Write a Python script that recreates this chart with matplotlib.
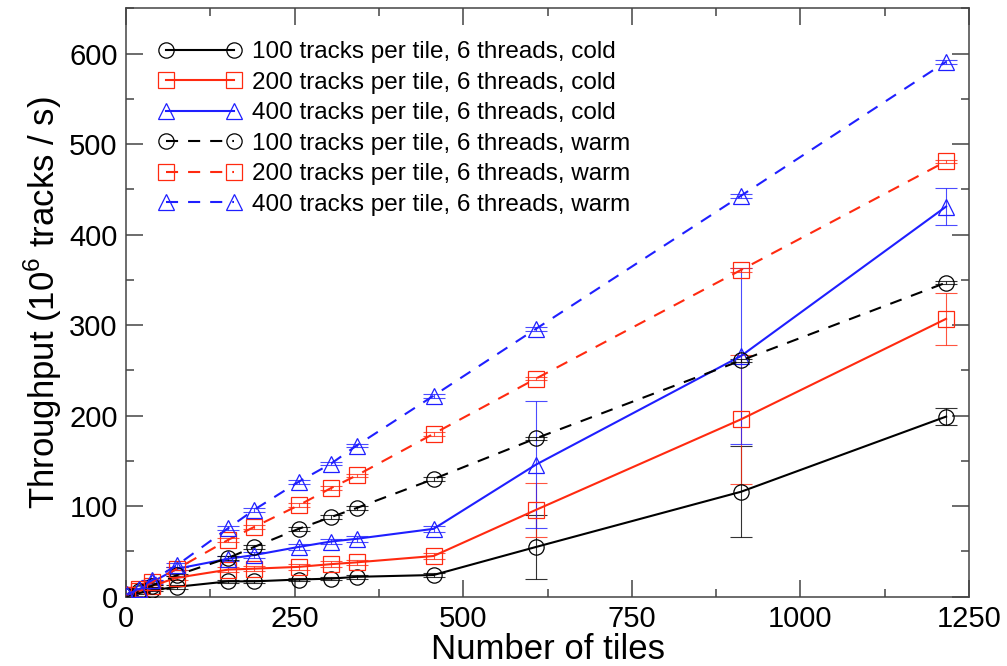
import matplotlib
matplotlib.use("Agg")
import matplotlib.pyplot as plt
from matplotlib.ticker import MultipleLocator

plt.rcParams['font.family'] = ['Liberation Sans', 'DejaVu Sans']
plt.rcParams['mathtext.fontset'] = 'custom'
plt.rcParams['mathtext.rm'] = 'Liberation Sans'

# ---- data ----
tiles = [2, 19, 38, 76, 152, 190, 256, 304, 342, 456, 608, 912, 1216]

cold_100 = [1, 4, 7, 11, 17, 17, 19, 20, 22, 24, 55, 116, 199]
cold_100_err = [1, 1, 1, 2, 2, 2, 2, 2, 2, 2, 35, 50, 9]
cold_200 = [2, 6, 12, 21, 30, 31, 33, 36, 38, 45, 96, 196, 307]
cold_200_err = [1, 1, 1, 2, 3, 3, 3, 3, 3, 3, 30, 71, 29]
cold_400 = [3, 8, 16, 31, 42, 46, 55, 61, 64, 75, 146, 266, 431]
cold_400_err = [1, 1, 2, 2, 3, 3, 3, 3, 3, 3, 70, 97, 20]

warm_100 = [1, 6, 12, 24, 43, 55, 75, 88, 98, 130, 175, 261, 347]
warm_100_err = [1, 1, 1, 1, 2, 2, 2, 2, 2, 2, 2, 2, 2]
warm_200 = [2, 8, 16, 31, 63, 77, 101, 120, 134, 180, 241, 361, 481]
warm_200_err = [1, 1, 1, 2, 2, 2, 2, 2, 2, 2, 2, 2, 2]
warm_400 = [2, 9, 18, 35, 76, 96, 127, 147, 167, 222, 296, 443, 591]
warm_400_err = [1, 1, 1, 2, 2, 2, 2, 2, 2, 2, 2, 2, 2]

labels = [
    "100 tracks per tile, 6 threads, cold",
    "200 tracks per tile, 6 threads, cold",
    "400 tracks per tile, 6 threads, cold",
    "100 tracks per tile, 6 threads, warm",
    "200 tracks per tile, 6 threads, warm",
    "400 tracks per tile, 6 threads, warm",
]

BLACK = '#000000'
RED = '#ff2a10'
BLUE = '#1f1fff'

series = [
    (cold_100, cold_100_err, BLACK, 'o', 'solid'),
    (cold_200, cold_200_err, RED, 's', 'solid'),
    (cold_400, cold_400_err, BLUE, '^', 'solid'),
    (warm_100, warm_100_err, BLACK, 'o', 'dashed'),
    (warm_200, warm_200_err, RED, 's', 'dashed'),
    (warm_400, warm_400_err, BLUE, '^', 'dashed'),
]

fig = plt.figure(figsize=(10.07, 6.66), dpi=100)
ax = fig.add_axes([0.1251, 0.104, 0.8372, 0.8835])

handles = []
for (vals, err, col, mk, ls), lab in zip(series, labels):
    ax.errorbar(tiles, vals, yerr=err, fmt='none', ecolor=col, elinewidth=0.8,
                capsize=8, capthick=0.8, alpha=0.8, zorder=2)
    line, = ax.plot(tiles, vals, color=col, lw=1.5, marker=mk, markersize=11,
                    markerfacecolor='none', markeredgecolor=col,
                    markeredgewidth=0.9, label=lab, zorder=3)
    if ls == 'dashed':
        line.set_dashes((5.8, 4.8))
    handles.append(line)

ax.set_xlim(0, 1250)
ax.set_ylim(0, 650)
ax.xaxis.set_major_locator(MultipleLocator(250))
ax.xaxis.set_minor_locator(MultipleLocator(125))
ax.yaxis.set_major_locator(MultipleLocator(100))
ax.yaxis.set_minor_locator(MultipleLocator(50))
ax.set_yticks([0, 100, 200, 300, 400, 500, 600])

for s in ax.spines.values():
    s.set_color('#444444')
    s.set_linewidth(1.1)
ax.tick_params(which='both', direction='in', top=True, right=True,
               color='#444444', labelsize=21, width=1.1, pad=6)
ax.tick_params(which='major', length=12)
ax.tick_params(which='minor', length=6)

ax.set_xlabel("Number of tiles", fontsize=25, labelpad=0)
ax.set_ylabel(r"Throughput (10$^{\mathregular{6}}$ tracks / s)", fontsize=25, labelpad=4)

leg = ax.legend(handles=handles, loc='upper left', bbox_to_anchor=(0.027, 0.961),
                frameon=False, fontsize=17.5, numpoints=2, handlelength=3.4,
                handletextpad=0.45, labelspacing=0.35, borderaxespad=0)

fig.savefig("out.png", dpi=100)
